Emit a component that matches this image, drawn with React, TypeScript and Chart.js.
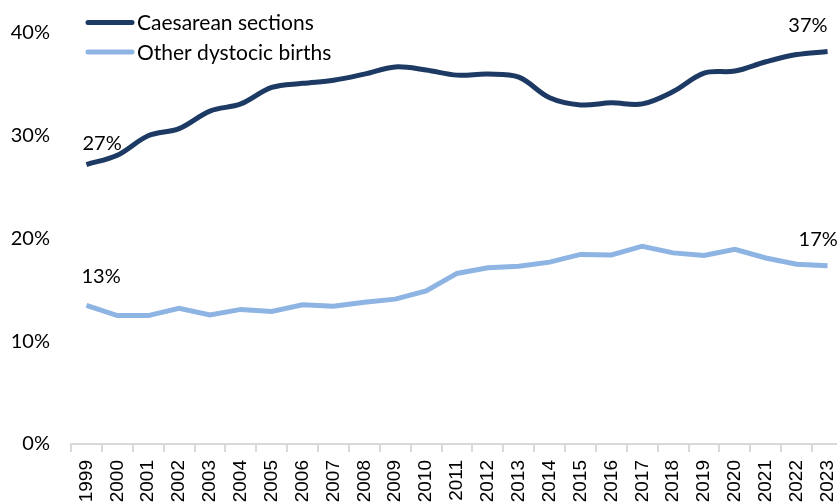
import React, { useEffect, useRef } from "react";
import { Chart, registerables } from "chart.js";

Chart.register(...registerables);

const years = [
  "1999", "2000", "2001", "2002", "2003", "2004", "2005", "2006", "2007", "2008",
  "2009", "2010", "2011", "2012", "2013", "2014", "2015", "2016", "2017", "2018",
  "2019", "2020", "2021", "2022", "2023",
];

const caesarean = [
  27.2, 28.1, 30.0, 30.7, 32.4, 33.1, 34.7, 35.1, 35.4, 36.0,
  36.7, 36.4, 35.9, 36.0, 35.7, 33.7, 33.0, 33.2, 33.1, 34.3,
  36.1, 36.3, 37.2, 37.9, 38.2,
];

const otherDystocic = [
  13.5, 12.5, 12.5, 13.2, 12.55, 13.1, 12.9, 13.55, 13.4, 13.8,
  14.1, 14.9, 16.6, 17.15, 17.3, 17.7, 18.45, 18.4, 19.25, 18.6,
  18.35, 18.95, 18.1, 17.5, 17.35,
];

const seriesNames = ["Caesarean sections", "Other dystocic births"];
const firstLabels = ["27%", "13%"];
const lastLabels = ["37%", "17%"];
const yTicks = [0, 10, 20, 30, 40];

const colors = ["#1c3a63", "#8db4e2"];
const legendFont = "21px Lato, 'Open Sans', sans-serif";
const labelFont = "20px Lato, 'Open Sans', sans-serif";

const legendPlugin = {
  id: "customLegend",
  afterDraw(chart: any) {
    const ctx = chart.ctx;
    const rows = [22.5, 52];
    ctx.save();
    chart.data.datasets.forEach((ds: any, i: number) => {
      const y = rows[i];
      ctx.strokeStyle = ds.borderColor;
      ctx.lineWidth = 5;
      ctx.lineCap = "round";
      ctx.beginPath();
      ctx.moveTo(88, y);
      ctx.lineTo(132, y);
      ctx.stroke();
      ctx.fillStyle = "#000";
      ctx.font = legendFont;
      ctx.textAlign = "left";
      ctx.textBaseline = "middle";
      ctx.fillText(ds.label, 137, y + 1);
    });
    ctx.restore();
  },
};

const endLabelPlugin = {
  id: "endLabels",
  afterDatasetsDraw(chart: any) {
    const ctx = chart.ctx;
    ctx.save();
    ctx.fillStyle = "#000";
    ctx.font = labelFont;
    ctx.textBaseline = "middle";
    const style = [
      { first: { dx: -4, dy: -21, align: "left" }, last: { dx: 0, dy: -26, align: "right" } },
      { first: { dx: -5, dy: -29, align: "left" }, last: { dx: -29, dy: -26, align: "left" } },
    ];
    chart.data.datasets.forEach((ds: any, i: number) => {
      const meta = chart.getDatasetMeta(i);
      const pts = meta.data;
      const p0 = pts[0];
      const pN = pts[pts.length - 1];
      const s = style[i];
      ctx.textAlign = s.first.align;
      ctx.fillText(firstLabels[i], p0.x + s.first.dx, p0.y + s.first.dy);
      ctx.textAlign = s.last.align;
      ctx.fillText(lastLabels[i], pN.x + s.last.dx, pN.y + s.last.dy);
    });
    ctx.restore();
  },
};

export default function App() {
  const ref = useRef<HTMLCanvasElement | null>(null);

  useEffect(() => {
    if (!ref.current) return;
    const chart = new Chart(ref.current, {
      type: "line",
      data: {
        labels: years,
        datasets: [
          {
            label: seriesNames[0],
            data: caesarean,
            borderColor: colors[0],
            backgroundColor: colors[0],
            borderWidth: 5,
            pointRadius: 0,
            tension: 0.35,
            fill: false,
          },
          {
            label: seriesNames[1],
            data: otherDystocic,
            borderColor: colors[1],
            backgroundColor: colors[1],
            borderWidth: 5,
            pointRadius: 0,
            tension: 0,
            fill: false,
          },
        ],
      },
      options: {
        responsive: false,
        animation: false,
        devicePixelRatio: 1,
        layout: { padding: { top: 22, right: 9, left: 0, bottom: 0 } },
        plugins: {
          legend: { display: false },
          tooltip: { enabled: false },
        },
        scales: {
          x: {
            type: "category",
            offset: true,
            grid: {
              display: true,
              offset: true,
              drawOnChartArea: false,
              drawTicks: true,
              tickLength: 8,
              color: "#d9d9d9",
              lineWidth: 2,
            },
            border: { display: true, color: "#d9d9d9", width: 2 },
            ticks: {
              autoSkip: false,
              minRotation: 90,
              maxRotation: 90,
              padding: 8,
              color: "#000",
              font: { family: "'Liberation Sans', Arial, sans-serif", size: 19 },
            },
            afterFit(scale: any) {
              scale.height = 58;
              scale.paddingLeft = 0;
              scale.paddingRight = 0;
            },
          },
          y: {
            min: 0,
            max: 40,
            afterBuildTicks(scale: any) {
              scale.ticks = yTicks.map((v) => ({ value: v }));
            },
            grid: { display: false, drawTicks: false },
            border: { display: false },
            ticks: {
              padding: 21,
              color: "#000",
              font: { family: "Lato, 'Open Sans', sans-serif", size: 20 },
              callback: (v: any) => `${v}%`,
            },
            afterFit(scale: any) {
              scale.width = 71;
            },
          },
        },
      },
      plugins: [legendPlugin, endLabelPlugin],
    });
    return () => chart.destroy();
  }, []);

  return (
    <div
      style={{
        position: "fixed",
        left: 0,
        top: 0,
        width: 837,
        height: 502,
        overflow: "hidden",
        background: "#fff",
      }}
    >
      <canvas ref={ref} width={852} height={502} style={{ display: "block" }} />
    </div>
  );
}
